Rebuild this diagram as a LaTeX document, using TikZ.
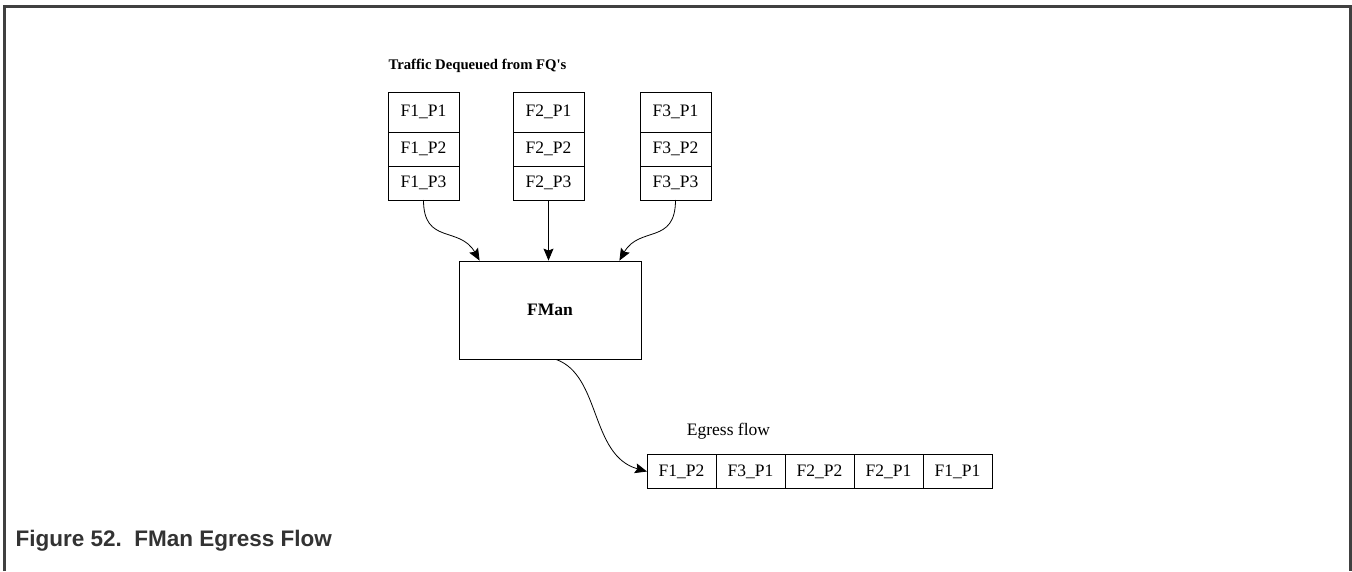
\documentclass[tikz,border=0pt]{standalone}
\usepackage{fontspec}
\setmainfont{Liberation Serif}
\newfontfamily\captionfont{Liberation Sans}
\usetikzlibrary{arrows.meta,positioning}

\begin{document}
\begin{tikzpicture}[x=1pt, y=-1pt,
  cell/.style={draw, line width=0.8pt, outer sep=0pt, inner sep=0pt,
    minimum width=71pt, minimum height=34pt, font=\fontsize{17.5}{20}\selectfont},
  qcell/.style={cell, minimum width=69pt},
  flow/.style={line width=0.8pt, -{Stealth[length=12pt,width=10pt,inset=2pt]}}]
\useasboundingbox (0,0) rectangle (1352,571);
\draw[line width=3pt, black!75] (4,571) -- (4,6.5) -- (1350,6.5) -- (1350,571);

\node[font=\bfseries\fontsize{14.7}{17}\selectfont] (title) at (477.5,66) {Traffic Dequeued from FQ\textquotesingle s};

% frame queues
\foreach \c/\x in {1/423.5, 2/548.5, 3/675.5} {
  \node[cell, minimum height=40pt] (f\c p1) at (\x,112) {F\c\_P1};
  \node[cell, below=0pt of f\c p1] (f\c p2) {F\c\_P2};
  \node[cell, below=0pt of f\c p2] (f\c p3) {F\c\_P3};
}

\node[draw, line width=0.8pt, minimum width=182pt, minimum height=98pt,
  font=\bfseries\fontsize{17.5}{20}\selectfont] (fman) at (550,310) {FMan};

\draw[flow] (f1p3.south) .. controls +(0,45) and +(-20,-35) .. ([xshift=21pt]fman.north west);
\draw[flow] (f2p3.south) -- (f2p3.south |- fman.north);
\draw[flow] (f3p3.south) .. controls +(0,45) and +(20,-35) .. ([xshift=-22pt]fman.north east);

% egress
\node[qcell] (e1) at (681.5,471.5) {F1\_P2};
\node[qcell, right=0pt of e1] (e2) {F3\_P1};
\node[qcell, right=0pt of e2] (e3) {F2\_P2};
\node[qcell, right=0pt of e3] (e4) {F2\_P1};
\node[qcell, right=0pt of e4] (e5) {F1\_P1};
\node[font=\fontsize{17.5}{20}\selectfont] (egress) at (728.5,431) {Egress flow};

\draw[flow] ([xshift=6pt]fman.south) .. controls +(45,16) and +(-57,-16) .. (e1.west);

\node[anchor=base west, text=black!80, font=\captionfont\bfseries\fontsize{22.5}{27}\selectfont]
  (caption) at (12,546) {Figure 52.\ \ FMan Egress Flow};
\end{tikzpicture}
\end{document}
